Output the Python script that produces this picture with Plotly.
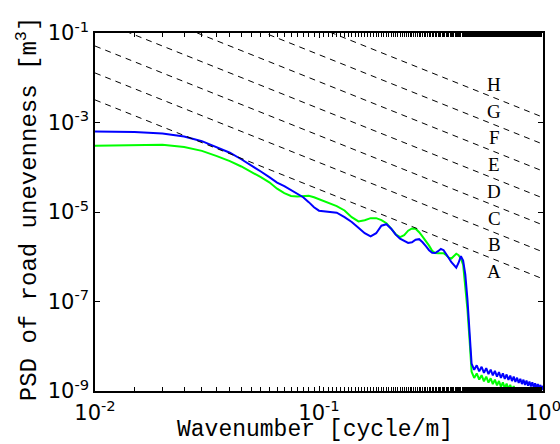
import math
import plotly.graph_objects as go

# Wavenumber grid [cycle/m]
wavenumber = [
    0.010, 0.015, 0.020, 0.025, 0.030, 0.035, 0.040, 0.045, 0.050, 0.055,
    0.060, 0.065, 0.070, 0.075, 0.080, 0.085, 0.090, 0.095, 0.100,
    0.11, 0.12, 0.13, 0.14, 0.15, 0.16, 0.17, 0.18, 0.19, 0.20,
    0.21, 0.22, 0.23, 0.24, 0.25, 0.26, 0.27, 0.28, 0.29, 0.30,
    0.31, 0.32, 0.33, 0.34, 0.35, 0.36, 0.37, 0.38, 0.39, 0.40,
    0.41, 0.42, 0.43, 0.44, 0.45, 0.46, 0.47,
    0.480, 0.493, 0.506, 0.519, 0.532, 0.545, 0.558, 0.571, 0.584, 0.597,
    0.610, 0.623, 0.636, 0.649, 0.662, 0.675, 0.688, 0.701, 0.714, 0.727,
    0.740, 0.753, 0.766, 0.779, 0.792, 0.805, 0.818, 0.831, 0.844, 0.857,
    0.870, 0.883, 0.896, 0.909, 0.922, 0.935, 0.948, 0.961, 0.974, 0.987,
    1.000,
]

psd_blue = [
    6.32e-4, 6.14e-4, 5.68e-4, 4.86e-4, 3.82e-4, 2.81e-4, 2.11e-4, 1.51e-4, 1.10e-4, 8.04e-5,
    6.00e-5, 4.52e-5, 3.78e-5, 3.12e-5, 2.63e-5, 2.14e-5, 1.66e-5, 1.28e-5, 1.07e-5,
    1.03e-5, 9.64e-6, 7.65e-6, 5.98e-6, 4.46e-6, 3.36e-6, 2.85e-6, 3.36e-6, 4.94e-6, 5.33e-6,
    4.24e-6, 3.11e-6, 2.53e-6, 2.22e-6, 2.03e-6, 2.11e-6, 2.40e-6, 2.47e-6, 2.11e-6, 1.72e-6,
    1.40e-6, 1.23e-6, 1.21e-6, 1.33e-6, 1.49e-6, 1.40e-6, 1.17e-6, 9.29e-7, 7.55e-7, 6.47e-7,
    5.69e-7, 7.36e-7, 1.03e-6, 8.17e-7, 3.97e-7, 1.10e-7, 1.81e-8,
    4.07e-9, 2.98e-9, 3.76e-9, 2.75e-9, 3.48e-9, 2.55e-9, 3.23e-9, 2.39e-9, 3.01e-9, 2.23e-9,
    2.82e-9, 2.10e-9, 2.64e-9, 1.97e-9, 2.48e-9, 1.86e-9, 2.34e-9, 1.77e-9, 2.21e-9, 1.67e-9,
    2.09e-9, 1.59e-9, 1.98e-9, 1.51e-9, 1.88e-9, 1.43e-9, 1.79e-9, 1.37e-9, 1.71e-9, 1.31e-9,
    1.63e-9, 1.26e-9, 1.56e-9, 1.21e-9, 1.49e-9, 1.15e-9, 1.43e-9, 1.11e-9, 1.37e-9, 1.06e-9,
    1.31e-9,
]

psd_green = [
    3.03e-4, 3.13e-4, 3.18e-4, 2.82e-4, 2.32e-4, 1.77e-4, 1.37e-4, 1.04e-4, 7.87e-5, 6.00e-5,
    4.61e-5, 3.32e-5, 2.63e-5, 2.28e-5, 2.22e-5, 2.25e-5, 2.31e-5, 2.14e-5, 1.93e-5,
    1.60e-5, 1.35e-5, 1.08e-5, 7.65e-6, 6.17e-6, 6.56e-6, 7.28e-6, 7.28e-6, 6.56e-6, 5.62e-6,
    4.24e-6, 3.19e-6, 2.74e-6, 3.03e-6, 3.82e-6, 4.28e-6, 4.24e-6, 3.54e-6, 2.81e-6, 2.29e-6,
    1.77e-6, 1.36e-6, 1.21e-6, 1.20e-6, 1.21e-6, 1.20e-6, 1.08e-6, 9.53e-7, 9.14e-7, 1.05e-6,
    1.17e-6, 1.08e-6, 9.04e-7, 6.64e-7, 2.37e-7, 6.56e-8, 1.40e-8,
    2.70e-9, 1.96e-9, 2.47e-9, 1.80e-9, 2.26e-9, 1.65e-9, 2.09e-9, 1.54e-9, 1.93e-9, 1.42e-9,
    1.79e-9, 1.33e-9, 1.67e-9, 1.24e-9, 1.56e-9, 1.16e-9, 1.46e-9, 1.10e-9, 1.37e-9, 1.03e-9,
    1.29e-9, 9.8e-10, 1.21e-9, 9.2e-10, 1.15e-9, 8.7e-10, 1.08e-9, 8.3e-10, 1.03e-9, 7.9e-10,
    9.8e-10, 7.5e-10, 9.3e-10, 7.1e-10, 8.8e-10, 6.8e-10, 8.4e-10, 6.5e-10, 8.0e-10, 6.2e-10,
    7.7e-10,
]

# ISO 8608 class boundary lines (end points at n = 0.01 and n = 1)
iso_line_n = [0.01, 1.0]
iso_line_start = [3.2e-3, 1.28e-2, 5.12e-2, 0.2048, 0.8192, 3.2768, 13.1072]
iso_line_end = [3.2e-7, 1.28e-6, 5.12e-6, 2.048e-5, 8.192e-5, 3.2768e-4, 1.31072e-3]

# Class labels
class_labels = ["A", "B", "C", "D", "E", "F", "G", "H"]
class_label_n = 0.607
class_label_psd = [4.6e-7, 1.84e-6, 7.3e-6, 2.9e-5, 1.16e-4, 4.6e-4, 1.8e-3, 7.0e-3]

x_tickvals = [0.01, 0.1, 1]
x_ticktext = ["10<sup>-2</sup>", "10<sup>-1</sup>", "10<sup>0</sup>"]
y_tickvals = [1e-9, 1e-7, 1e-5, 1e-3, 1e-1]
y_ticktext = ["10<sup>-9</sup>", "10<sup>-7</sup>", "10<sup>-5</sup>", "10<sup>-3</sup>", "10<sup>-1</sup>"]

fig = go.Figure()

fig.add_trace(go.Scatter(x=wavenumber, y=psd_green, mode="lines",
                         line=dict(color="#00ff00", width=2), showlegend=False))
fig.add_trace(go.Scatter(x=wavenumber, y=psd_blue, mode="lines",
                         line=dict(color="#0000ff", width=2), showlegend=False))

for s, e in zip(iso_line_start, iso_line_end):
    fig.add_trace(go.Scatter(x=iso_line_n, y=[s, e], mode="lines",
                             line=dict(color="black", width=1, dash="6px,5px"),
                             showlegend=False))

# annotations on log axes take log10 coordinates
for lab, v in zip(class_labels, class_label_psd):
    fig.add_annotation(x=math.log10(class_label_n), y=math.log10(v), xref="x", yref="y",
                       text=lab, showarrow=False,
                       font=dict(family="Liberation Serif", size=19, color="black"))

fig.add_annotation(x=0.49, y=-0.068, xref="paper", yref="paper", yanchor="top",
                   text="Wavenumber [cycle/m]", showarrow=False,
                   font=dict(family="Liberation Mono", size=23, color="black"))
fig.add_annotation(x=-0.15, y=0.51, xref="paper", yref="paper", xanchor="center",
                   text="PSD of road unevenness [m<sup>3</sup>]", showarrow=False,
                   textangle=-90,
                   font=dict(family="Liberation Mono", size=24, color="black"))

axis_common = dict(type="log", showline=True, linecolor="black", linewidth=1.5,
                   mirror="ticks", ticks="inside", ticklen=5, tickcolor="black",
                   showgrid=False, zeroline=False, automargin=False,
                   ticklabeloverflow="allow",
                   tickfont=dict(family="DejaVu Sans", size=21, color="black"))

fig.update_xaxes(range=[-2, 0], tickvals=x_tickvals, ticktext=x_ticktext,
                 ticklabelstandoff=2,
                 minor=dict(ticks="inside", ticklen=4, tickcolor="black", showgrid=False),
                 **axis_common)
fig.update_yaxes(range=[-9, -1], tickvals=y_tickvals, ticktext=y_ticktext,
                 **axis_common)

fig.update_layout(width=560, height=444, margin=dict(l=95, r=17, t=33, b=53),
                  paper_bgcolor="white", plot_bgcolor="white")

fig.write_html("out.html")
